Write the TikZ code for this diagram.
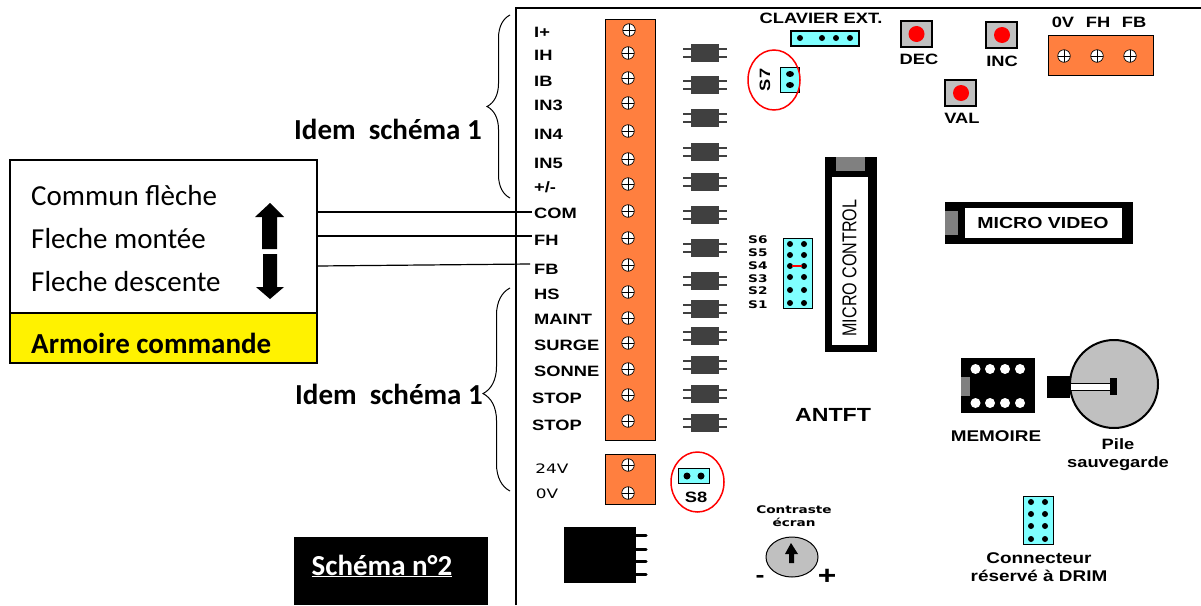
\documentclass[tikz,border=0pt]{standalone}
\usepackage{fontspec}
\setmainfont{Carlito}
\newfontfamily\boardfont[FakeStretch=1.22]{Liberation Sans}
\newfontfamily\widefont[FakeStretch=1.3]{DejaVu Sans}
\usetikzlibrary{decorations.pathreplacing}
\definecolor{termorange}{HTML}{FF7F3F}
\definecolor{jumpercyan}{HTML}{7FFFFF}
\definecolor{chipgrey}{HTML}{404040}
\definecolor{keygrey}{HTML}{C0C0C0}
\definecolor{notchgrey}{HTML}{808080}

\begin{document}
\begin{tikzpicture}[x=1pt,y=-1pt,
    every node/.style={inner sep=0pt},
    boxtext/.style={font=\fontsize{29}{30}\selectfont, anchor=west},
    boxbold/.style={font=\bfseries\fontsize{29}{30}\selectfont},
    pinlabel/.style={font=\boardfont\bfseries\fontsize{15}{16}\selectfont, anchor=west, inner sep=2pt},
    partlabel/.style={font=\boardfont\bfseries\fontsize{15}{16}\selectfont, align=center},
    tinylabel/.style={font=\widefont\bfseries\fontsize{10.5}{13}\selectfont, align=center},
    screw/.style={draw, circle, fill=white, minimum size=12.5pt, line width=0.7pt,
        path picture={\draw[line width=0.7pt]
            ([xshift=-7pt]path picture bounding box.center) -- ([xshift=7pt]path picture bounding box.center)
            ([yshift=-7pt]path picture bounding box.center) -- ([yshift=7pt]path picture bounding box.center);}},
    chip/.style={minimum width=44pt, minimum height=18pt,
        path picture={
            \fill[chipgrey] ([xshift=-14pt,yshift=-9pt]path picture bounding box.center) rectangle ([xshift=14pt,yshift=9pt]path picture bounding box.center);
            \draw[chipgrey, line width=2pt]
                ([xshift=-22pt,yshift=-4pt]path picture bounding box.center) -- ([xshift=22pt,yshift=-4pt]path picture bounding box.center)
                ([xshift=-22pt,yshift=4pt]path picture bounding box.center) -- ([xshift=22pt,yshift=4pt]path picture bounding box.center);}},
    keycap/.style={draw, line width=2pt, fill=keygrey, minimum width=31pt, minimum height=26pt},
    jumper/.style={draw, fill=jumpercyan, line width=1pt},
    redring/.style={draw=red, line width=1.5pt}
]
    \useasboundingbox (0,0) rectangle (1201,605);

    % armoire
    \node[draw, line width=1.2pt, fill=white, minimum width=307pt, minimum height=153pt] (armoire) at (163.5,236.5) {};
    \node[draw, line width=1.2pt, fill=yellow, minimum width=307pt, minimum height=50pt] (armoirebas) at (163.5,338) {};
    \node[boxtext] (commun) at (31,196) {Commun flèche};
    \node[boxtext] (montee) at (31,239) {Fleche montée};
    \node[boxtext] (descente) at (31,282) {Fleche descente};
    \node[boxbold, anchor=west] (armoiretxt) at (31,343) {Armoire commande};
    \fill (270,203) -- (284,217) -- (277,217) -- (277,249) -- (262,249) -- (262,217) -- (255,217) -- cycle;
    \fill (270,299) -- (284,287) -- (277,287) -- (277,254) -- (263,254) -- (263,287) -- (256,287) -- cycle;

    \node[boxbold] (idemhaut) at (388,129) {Idem\ \ schéma 1};
    \node[boxbold] (idembas) at (389,394) {Idem\ \ schéma 1};
    \draw[decorate, decoration={brace, mirror, amplitude=23pt}, line width=1pt] (510,15) -- (510,198);
    \draw[decorate, decoration={brace, mirror, amplitude=27pt, aspect=.52}, line width=1pt] (510,288) -- (510,491);

    \fill[draw, fill=black] (294,537) rectangle (487,604);
    \node[boxbold, text=white] (schema) at (382,566) {\underline{Schéma n°2}};

    % carte
    \draw[line width=2.5pt] (516,605) -- (516,8) -- (1201,8);

    \node[draw, line width=1pt, fill=termorange, minimum width=50pt, minimum height=421pt] (bornier) at (630,229.5) {};
    \node[draw, line width=1pt, fill=termorange, minimum width=50pt, minimum height=50pt] (bornier24) at (630,479) {};
    \node[draw, line width=1pt, fill=termorange, minimum width=105pt, minimum height=40pt] (bornierfl) at (1100.5,55) {};

    \node[pinlabel] (iplus) at (532,32) {I+};
    \node[pinlabel] (ih) at (532,55) {IH};
    \node[pinlabel] (ib) at (532,81) {IB};
    \node[pinlabel] (inthree) at (532,105) {IN3};
    \node[pinlabel] (infour) at (532,134) {IN4};
    \node[pinlabel] (infive) at (532,163) {IN5};
    \node[pinlabel] (plusminus) at (532,187) {+/-};
    \node[pinlabel] (com) at (532,213) {COM};
    \node[pinlabel] (fh) at (532,240) {FH};
    \node[pinlabel] (fb) at (532,269) {FB};
    \node[pinlabel] (hs) at (532,294) {HS};
    \node[pinlabel] (maint) at (532,319) {MAINT};
    \node[pinlabel] (surge) at (532,345) {SURGE};
    \node[pinlabel] (sonne) at (532,371) {SONNE};
    \node[pinlabel] (stopa) at (530,398) {STOP};
    \node[pinlabel] (stopb) at (530,425) {STOP};
    \node[tinylabel, font=\widefont\fontsize{13}{14}\selectfont] (vingtquatre) at (552,469) {24V};
    \node[tinylabel, font=\widefont\fontsize{13}{14}\selectfont] (zerov) at (547,494) {0V};

    \coordinate (fila) at (317,212);
    \coordinate (filb) at (317,236);
    \coordinate (filc) at (317,266);
    \coordinate (filcfin) at (530,264);
    \draw[line width=1.2pt] (fila) -- (com.west |- fila);
    \draw[line width=1.2pt] (filb) -- (fh.west |- filb);
    \draw[line width=1.2pt] (filc) -- (filcfin);

    \node[screw] (sa) at (629,30) {};
    \node[screw] (sb) at (628,53) {};
    \node[screw] (sc) at (628,78) {};
    \node[screw] (sd) at (628,103) {};
    \node[screw] (se) at (628,131) {};
    \node[screw] (sf) at (628,159) {};
    \node[screw] (sg) at (628,184) {};
    \node[screw] (sh) at (628,211) {};
    \node[screw] (si) at (628,238) {};
    \node[screw] (sj) at (628,265) {};
    \node[screw] (sk) at (628,292) {};
    \node[screw] (sl) at (628,318) {};
    \node[screw] (sm) at (628,343) {};
    \node[screw] (sn) at (628,369) {};
    \node[screw] (so) at (628,395) {};
    \node[screw] (sp) at (628,421) {};
    \node[screw] (sq) at (628,465) {};
    \node[screw] (sr) at (628,493) {};
    \node[screw] (sfa) at (1064,56) {};
    \node[screw] (sfb) at (1097,56) {};
    \node[screw] (sfc) at (1130,56) {};

    \node[chip] (ca) at (705,53) {};
    \node[chip] (cb) at (705,85) {};
    \node[chip] (cc) at (705,118) {};
    \node[chip] (cd) at (705,152) {};
    \node[chip] (ce) at (705,182) {};
    \node[chip] (cf) at (705,215) {};
    \node[chip] (cg) at (705,248) {};
    \node[chip] (ch) at (705,281) {};
    \node[chip] (ci) at (705,309) {};
    \node[chip] (cj) at (705,336) {};
    \node[chip] (ck) at (705,365) {};
    \node[chip] (cl) at (705,394) {};
    \node[chip] (cm) at (705,423) {};

    % cavaliers
    \node[partlabel] (clavier) at (821,18) {CLAVIER EXT.};
    \node[draw, line width=2pt, fill=jumpercyan, minimum width=68pt, minimum height=15pt] (clavierbox) at (825,38) {};
    \node[jumper, minimum width=19pt, minimum height=25pt] (sseptbox) at (789.5,79.5) {};
    \node[partlabel, rotate=90] (ssept) at (765,80) {S7};
    \draw[redring] (774,80) ellipse [x radius=26, y radius=30];
    \node[jumper, minimum width=29pt, minimum height=70pt] (sixbox) at (797.5,273) {};
    \node[tinylabel, anchor=west] (ssix) at (748,240) {S6};
    \node[tinylabel, anchor=west] (scinq) at (748,253) {S5};
    \node[tinylabel, anchor=west] (squatre) at (748,266) {S4};
    \node[tinylabel, anchor=west] (strois) at (748,279) {S3};
    \node[tinylabel, anchor=west] (sdeux) at (748,291) {S2};
    \node[tinylabel, anchor=west] (sun) at (748,305) {S1};
    \node[jumper, minimum width=31pt, minimum height=15pt] (shuitbox) at (693.5,475.5) {};
    \node[partlabel] (shuit) at (696,497) {S8};
    \draw[redring] (697.5,482) ellipse [x radius=26.5, y radius=30];
    \node[jumper, minimum width=30pt, minimum height=48pt] (drimbox) at (1038,520) {};
    \fill (800,38) circle (3) (822,38) circle (3) (836,38) circle (3) (850,38) circle (3);
    \fill (790,74) ellipse [x radius=4, y radius=3] (790,85) ellipse [x radius=4, y radius=3];
    \fill (790,244) circle (3) (804,244) circle (3) (790,255) circle (3) (804,255) circle (3)
          (790,266) circle (3) (804,266) circle (3) (790,277) circle (3) (804,277) circle (3)
          (790,290) circle (3) (804,290) circle (3) (790,303) circle (3) (804,303) circle (3);
    \draw[red, line width=2pt] (792,266) -- (802,266);
    \fill (687,476) circle (3.5) (701,476) circle (3.5);
    \fill (1031,502) circle (3) (1045,502) circle (3) (1031,514) circle (3) (1045,514) circle (3)
          (1031,526) circle (3) (1045,526) circle (3) (1031,539) circle (3) (1045,539) circle (3);

    % touches
    \node[keycap] (keydec) at (916.5,34) {};
    \node[keycap] (keyinc) at (1001.5,34.5) {};
    \node[keycap] (keyval) at (960.5,93) {};
    \fill[red] (916.5,34) circle (8) (1002,35) circle (8) (961,93) circle (8);
    \node[partlabel] (dec) at (919,59) {DEC};
    \node[partlabel] (inc) at (1002,61) {INC};
    \node[partlabel] (val) at (962,118) {VAL};
    \node[partlabel] (zerovh) at (1063,22) {0V};
    \node[partlabel] (fhh) at (1098,22) {FH};
    \node[partlabel] (fbh) at (1134,22) {FB};

    % micro control
    \fill (825,157) rectangle (877,352);
    \fill[white] (832,177) rectangle (868,345);
    \fill[notchgrey] (836,157) rectangle (865,171);
    \node[font=\boardfont\fontsize{20}{22}\selectfont, rotate=90] (microcontrol) at (849.5,268) {\scalebox{.66}[1]{MICRO CONTROL}};

    % micro video
    \fill (945,202) rectangle (1133,244);
    \fill[white] (965,208) rectangle (1122,238);
    \fill[notchgrey] (945,211) rectangle (958,235);
    \node[partlabel, font=\boardfont\bfseries\fontsize{16}{18}\selectfont] (microvideo) at (1043,223) {MICRO VIDEO};

    % memoire
    \fill (961,358) rectangle (1035,413);
    \fill[notchgrey] (961,377) rectangle (970,396);
    \fill[white] (975.5,369) circle (5) (990,369) circle (5) (1005,369) circle (5) (1020,369) circle (5)
                 (975.5,403) circle (5) (990,403) circle (5) (1005,403) circle (5) (1020,403) circle (5);
    \node[partlabel, font=\boardfont\bfseries\fontsize{15.5}{18}\selectfont] (memoire) at (996,436) {MEMOIRE};

    % pile
    \draw[line width=2pt, fill=keygrey] (1114,384) circle (44);
    \fill (1047,376) rectangle (1070,398);
    \draw[fill=white, line width=1pt] (1070,383) rectangle (1110,390);
    \fill (1110,378) rectangle (1117,395);
    \node[partlabel, font=\boardfont\bfseries\fontsize{15}{18}\selectfont] (pile) at (1118,455) {Pile\\sauvegarde};

    \node[partlabel, font=\boardfont\bfseries\fontsize{15.5}{18}\selectfont] (connecteur) at (1039,567) {Connecteur\\réservé à DRIM};
    \node[partlabel, font=\boardfont\bfseries\fontsize{19}{20}\selectfont] (antft) at (833,415) {ANTFT};

    % alim
    \fill (564,527) rectangle (636,583);
    \draw[line width=3pt, line cap=round] (636,535) -- (646,535) (636,549) -- (646,549) (636,561) -- (646,561) (636,574) -- (646,574);

    % contraste
    \node[tinylabel] (contraste) at (794,516) {Contraste\\écran};
    \draw[line width=1pt, fill=keygrey] (792,557) ellipse [x radius=26, y radius=20];
    \fill (791,543) -- (798,554) -- (794,554) -- (794,563) -- (789,563) -- (789,554) -- (785,554) -- cycle;
    \node[font=\boardfont\bfseries\fontsize{22}{22}\selectfont] (moins) at (760,579) {-};
    \node[font=\boardfont\bfseries\fontsize{26}{26}\selectfont] (plus) at (827,577) {+};
\end{tikzpicture}
\end{document}
